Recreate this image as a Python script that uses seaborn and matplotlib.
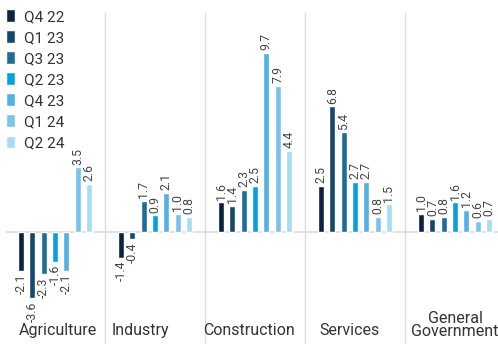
import matplotlib
matplotlib.use("Agg")
import matplotlib.pyplot as plt
import seaborn as sns
import pandas as pd

sectors = ["Agriculture", "Industry", "Construction", "Services", "General\nGovernment"]
quarters = ["Q4 22", "Q1 23", "Q3 23", "Q2 23", "Q4 23", "Q1 24", "Q2 24"]
agriculture = [-2.1, -3.6, -2.3, -1.6, -2.1, 3.5, 2.6]
industry = [-1.4, -0.4, 1.7, 0.9, 2.1, 1.0, 0.8]
construction = [1.6, 1.4, 2.3, 2.5, 9.7, 7.9, 4.4]
services = [2.5, 6.8, 5.4, 2.7, 2.7, 0.8, 1.5]
government = [1.0, 0.7, 0.8, 1.6, 1.2, 0.6, 0.7]
palette = ["#0b2240", "#17486b", "#1e6d98", "#07a0dc", "#52b0e3", "#7bc3ec", "#a5dcf6"]

series = [agriculture, industry, construction, services, government]
rows = []
for sector, vals in zip(sectors, series):
    for q, v in zip(quarters, vals):
        rows.append({"sector": sector, "quarter": q, "value": v})
df = pd.DataFrame(rows)

sns.set_style("white")
plt.rcParams["font.family"] = ["Roboto", "DejaVu Sans"]

fig = plt.figure(figsize=(4.98, 3.44), dpi=100)
ax = fig.add_axes([5 / 498, 0, 500 / 498, 1])

sns.barplot(data=df, x="sector", y="value", hue="quarter", order=sectors,
            hue_order=quarters, palette=palette, width=0.79, gap=0.47,
            saturation=1, ax=ax, legend=True)

for cont in ax.containers:
    ax.bar_label(cont, fmt="%.1f", rotation=90, padding=2, fontsize=8.8,
                 color="#444444")

ymin, ymax = -6.07, 12.57
ax.set_ylim(ymin, ymax)
ax.set_xlim(-0.5, 4.5)
ax.axhline(0, color="#dcdcdc", lw=1.2, zorder=0)
for xv in [0.5, 1.5, 2.5, 3.5]:
    ax.vlines(xv, ymin, 11.9, color="#dcdcdc", lw=1.0, zorder=0)

for s in ax.spines.values():
    s.set_visible(False)
ax.set_xticks([])
ax.set_yticks([])
ax.set_xlabel("")
ax.set_ylabel("")

label_pos = [(-0.36, "left", -5.35), (0.57, "left", -5.35), (1.48, "left", -5.35),
             (2.64, "left", -5.35), (4.0, "center", -5.05)]
for name, (xp, ha, yp) in zip(sectors, label_pos):
    ax.text(xp, yp, name, ha=ha, va="center", fontsize=11.5, color="#333333",
            linespacing=0.85)

handles, labels = ax.get_legend_handles_labels()
ax.legend(handles, labels, loc="upper left", bbox_to_anchor=(-0.003, 0.995),
          bbox_transform=fig.transFigure, frameon=False, fontsize=11,
          handlelength=0.6, handleheight=0.9, handletextpad=0.6,
          labelspacing=0.42, borderaxespad=0.3, borderpad=0.2,
          labelcolor="#333333")

fig.savefig("out.png", dpi=100)
